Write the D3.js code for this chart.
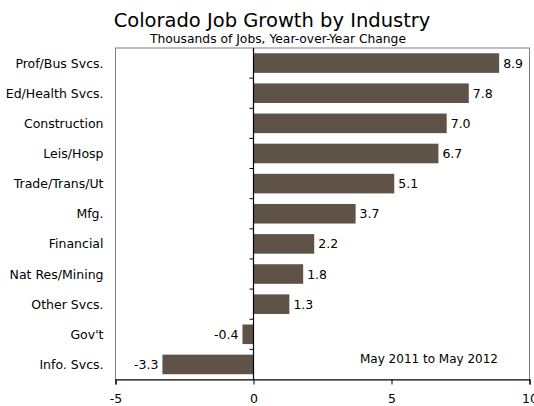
<!DOCTYPE html>
<html>
<head>
<meta charset="utf-8">
<script src="https://cdn.jsdelivr.net/npm/d3@7"></script>
<style>
  html, body { margin: 0; padding: 0; background: #fff; }
  svg { display: block; font-family: "DejaVu Sans", Verdana, sans-serif; }
</style>
</head>
<body>
<svg id="chart" width="534" height="406"></svg>
<script>
// Industries, top to bottom
const categories = ["Prof/Bus Svcs.", "Ed/Health Svcs.", "Construction", "Leis/Hosp",
  "Trade/Trans/Ut", "Mfg.", "Financial", "Nat Res/Mining", "Other Svcs.", "Gov't", "Info. Svcs."];
// Year-over-year change, thousands of jobs
const values = [8.9, 7.8, 7.0, 6.7, 5.1, 3.7, 2.2, 1.8, 1.3, -0.4, -3.3];
const xTicks = [-5, 0, 5, 10];
const xDomain = [-5, 10];

const svg = d3.select("#chart");
const plot = { left: 115.5, right: 529.5, top: 48, bottom: 379.5 };
const barColor = "#5f5348";

// plain hyphen for negatives
const fmtValue = d => d.toFixed(1);
const fmtTick = d => String(d);

const x = d3.scaleLinear().domain(xDomain).range([plot.left, plot.right]);
const y = d3.scaleBand().domain(categories).range([plot.top, plot.bottom])
  .paddingInner(0.35).paddingOuter(0.175);

// Titles
svg.append("text").attr("x", 272).attr("y", 27).attr("text-anchor", "middle")
  .attr("font-size", 19.5).attr("fill", "#000").text("Colorado Job Growth by Industry");
svg.append("text").attr("x", 278).attr("y", 43).attr("text-anchor", "middle")
  .attr("font-size", 12.3).attr("fill", "#000").text("Thousands of Jobs, Year-over-Year Change");

// Plot frame
svg.append("rect").attr("x", plot.left).attr("y", plot.top)
  .attr("width", plot.right - plot.left).attr("height", plot.bottom - plot.top)
  .attr("fill", "none").attr("stroke", "#808080").attr("stroke-width", 1);

// Bars
svg.append("g").selectAll("rect").data(values).join("rect")
  .attr("x", d => x(Math.min(0, d)))
  .attr("y", (d, i) => y(categories[i]))
  .attr("width", d => Math.abs(x(d) - x(0)))
  .attr("height", y.bandwidth())
  .attr("fill", barColor);

// Value labels
svg.append("g").selectAll("text").data(values).join("text")
  .attr("x", d => d >= 0 ? x(d) + 4 : x(d) - 4)
  .attr("y", (d, i) => y(categories[i]) + y.bandwidth() / 2)
  .attr("dy", "0.36em")
  .attr("text-anchor", d => d >= 0 ? "start" : "end")
  .attr("font-size", 12.5).attr("fill", "#000")
  .text(fmtValue);

// Category labels
svg.append("g").selectAll("text").data(categories).join("text")
  .attr("x", 103.5)
  .attr("y", d => y(d) + y.bandwidth() / 2)
  .attr("dy", "0.36em")
  .attr("text-anchor", "end")
  .attr("font-size", 12.5).attr("fill", "#000")
  .text(d => d);

// Zero line with category boundary ticks
const boundaries = d3.range(1, categories.length).map(k => plot.top + y.step() * k);
svg.append("line").attr("x1", x(0)).attr("x2", x(0))
  .attr("y1", plot.top).attr("y2", plot.bottom)
  .attr("stroke", "#000").attr("stroke-width", 1.2);
svg.append("g").selectAll("line").data(boundaries).join("line")
  .attr("x1", x(0) - 4).attr("x2", x(0))
  .attr("y1", d => d).attr("y2", d => d)
  .attr("stroke", "#000");

// X axis
const xAxis = svg.append("g").attr("transform", `translate(0,${plot.bottom})`)
  .call(d3.axisBottom(x).tickValues(xTicks).tickSize(5).tickPadding(10)
    .tickFormat(fmtTick));
xAxis.select(".domain").attr("stroke", "#000").attr("stroke-width", 1.2);
xAxis.selectAll(".tick line").attr("stroke", "#000");
xAxis.selectAll(".tick text").attr("font-size", 12.5)
  .attr("font-family", "DejaVu Sans, Verdana, sans-serif").attr("fill", "#000");

// Period note
svg.append("text").attr("x", 498).attr("y", 363).attr("text-anchor", "end")
  .attr("font-size", 12).attr("fill", "#000").text("May 2011 to May 2012");
</script>
</body>
</html>
